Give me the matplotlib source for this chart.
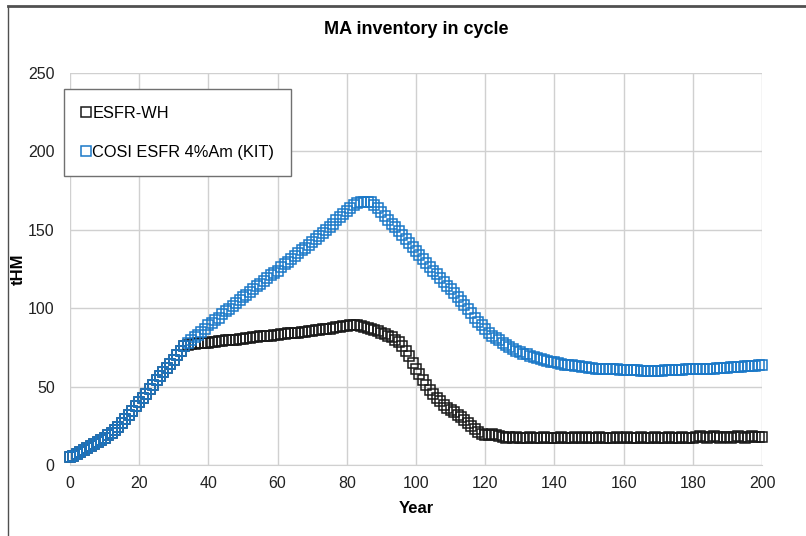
import matplotlib.pyplot as plt
from matplotlib.lines import Line2D

plt.rcParams["font.family"] = ["Liberation Sans", "DejaVu Sans"]

years = list(range(201))

# values, one per year (tHM)
esfr_wh = [
    5, 6, 7, 8.5, 9.5, 11, 12, 13.5, 14.5, 16,
    17, 19, 20.5, 22.5, 24.5, 27, 29.5, 32, 34.5, 37.5,
    40, 43, 45.5, 48.5, 51, 54, 56.5, 59, 62, 64.5,
    67, 70, 73, 76, 76.5, 77, 77, 77.5, 77.5, 78,
    78, 78.5, 78.5, 79, 79, 79.5, 79.5, 80, 80, 80.5,
    80.5, 81, 81, 81.5, 81.5, 82, 82, 82.5, 82.5, 83,
    83, 83.5, 83.5, 84, 84, 84.5, 84.5, 85, 85, 85.5,
    85.5, 86, 86, 86.5, 87, 87, 87.5, 88, 88, 88.5,
    88.5, 89, 89, 89, 88.5, 88, 87.5, 87, 86, 85.5,
    84.5, 83.5, 82.5, 81.5, 80, 78.5, 76, 73, 69.5, 65,
    61, 58, 54.5, 51, 48, 45, 43, 41, 38.5, 36.5,
    35, 33.5, 32, 30.5, 28.5, 27, 25, 23, 21, 19.5,
    19, 19, 19.5, 19, 18.5, 18, 17.5, 18, 17.5, 18,
    17.5, 17, 17.5, 18, 17.5, 17, 17.5, 18, 17, 17.5,
    17, 17.5, 18, 17.5, 17, 17.5, 18, 17.5, 17, 18,
    17.5, 17, 17.5, 18, 17, 17.5, 17, 17.5, 18, 17,
    17.5, 18, 17.5, 17, 17.5, 18, 17.5, 17, 17.5, 18,
    17.5, 17, 17.5, 18, 17.5, 17, 17.5, 18, 17.5, 17,
    17.5, 18, 18.5, 18, 17.5, 18, 18.5, 18, 17.5, 18,
    18, 17.5, 18, 18.5, 18, 17.5, 18, 18.5, 18, 18,
    18,
]

cosi_kit = [
    5, 6, 7, 8.5, 9.5, 11, 12, 13.5, 14.5, 16,
    17, 19, 20.5, 22.5, 24.5, 27, 29.5, 32, 34.5, 37.5,
    40, 43, 45.5, 48.5, 51, 54, 56.5, 59, 62, 64.5,
    67, 70, 73, 76, 78, 79.5, 81.5, 83, 85, 87,
    89, 90.5, 92.5, 94, 96, 98, 99.5, 101.5, 103, 105,
    107, 108.5, 110.5, 112, 114, 115.5, 117.5, 119, 121, 122.5,
    124, 126, 128, 129.5, 131.5, 133, 135, 137, 138.5, 140.5,
    142, 144, 146, 148, 150, 152, 154, 156, 158, 160,
    162, 164, 165.5, 167, 168, 168, 168, 167.5, 166, 164,
    161.5, 159, 156.5, 154, 151.5, 149, 146.5, 144, 141.5, 139,
    136.5, 134, 131.5, 129, 126.5, 124, 121.5, 119, 116.5, 114,
    112, 109.5, 107, 104.5, 102, 99.5, 97, 94, 91.5, 89,
    86.5, 84.5, 82.5, 81, 79.5, 78, 76.5, 75.5, 74, 73,
    72, 71, 70.5, 69.5, 69, 68.5, 67.5, 67, 66.5, 66,
    65.5, 65, 64.5, 64, 64, 63.5, 63, 63, 62.5, 62.5,
    62, 62, 61.5, 61.5, 61.5, 61, 61, 61, 61, 60.5,
    60.5, 60.5, 60.5, 60.5, 60.5, 60, 60, 60, 60, 60,
    60, 60, 60.5, 60.5, 60.5, 60.5, 60.5, 60.5, 61, 61,
    61, 61, 61, 61.5, 61.5, 61.5, 61.5, 62, 62, 62,
    62, 62.5, 62.5, 62.5, 62.5, 63, 63, 63, 63, 63.5,
    63.5,
]

series_names = ["ESFR-WH", "COSI ESFR 4%Am (KIT)"]
x_ticks = list(range(0, 201, 20))
y_ticks = list(range(0, 251, 50))

fig = plt.figure(figsize=(8.06, 5.36), dpi=100)
ax = fig.add_axes([70 / 806, 1 - 465 / 536, 692 / 806, 392 / 536])

ax.plot(years, esfr_wh, linestyle="none", marker="s", markersize=7.5,
        markerfacecolor="none", markeredgecolor="#1a1a1a", markeredgewidth=1.1,
        label=series_names[0], clip_on=False, zorder=3)
ax.plot(years, cosi_kit, linestyle="none", marker="s", markersize=7.5,
        markerfacecolor="none", markeredgecolor="#1a78c8", markeredgewidth=1.1,
        label=series_names[1], clip_on=False, zorder=4)

ax.set_xlim(0, 200)
ax.set_ylim(0, 250)
ax.set_xticks(x_ticks)
ax.set_yticks(y_ticks)
ax.grid(True, color="#d0d0d0", linewidth=1.0)
ax.set_axisbelow(True)
for side in ["top", "right", "left"]:
    ax.spines[side].set_visible(False)
ax.spines["bottom"].set_color("#d0d0d0")
ax.tick_params(axis="x", length=0, labelsize=11.5, colors="#222222", pad=8)
ax.tick_params(axis="y", length=0, labelsize=11.5, colors="#222222", pad=11)

fig.text(416 / 806, 1 - 30 / 536, "MA inventory in cycle", fontsize=13,
         fontweight="bold", ha="center", va="center")
ax.set_xlabel("Year", fontsize=12, fontweight="bold")
ax.set_ylabel("tHM", fontsize=12, fontweight="bold")
ax.xaxis.set_label_coords(0.5, -0.093)
ax.yaxis.set_label_coords(-0.064, 0.5)

leg = ax.legend(loc="upper left", bbox_to_anchor=(-0.008, 0.958), borderaxespad=0,
                fontsize=11.8, labelspacing=1.45, handlelength=0.6, handletextpad=0.1,
                borderpad=1.0, fancybox=False, framealpha=1, edgecolor="#707070",
                markerscale=0.95)
leg.get_frame().set_linewidth(1.0)

# screenshot frame edges
fig.add_artist(Line2D([8 / 806, 1], [1 - 6 / 536, 1 - 6 / 536], color="#505050", linewidth=2))
fig.add_artist(Line2D([8 / 806, 8 / 806], [0, 1 - 6 / 536], color="#505050", linewidth=1))

fig.savefig("out.png", dpi=100)
